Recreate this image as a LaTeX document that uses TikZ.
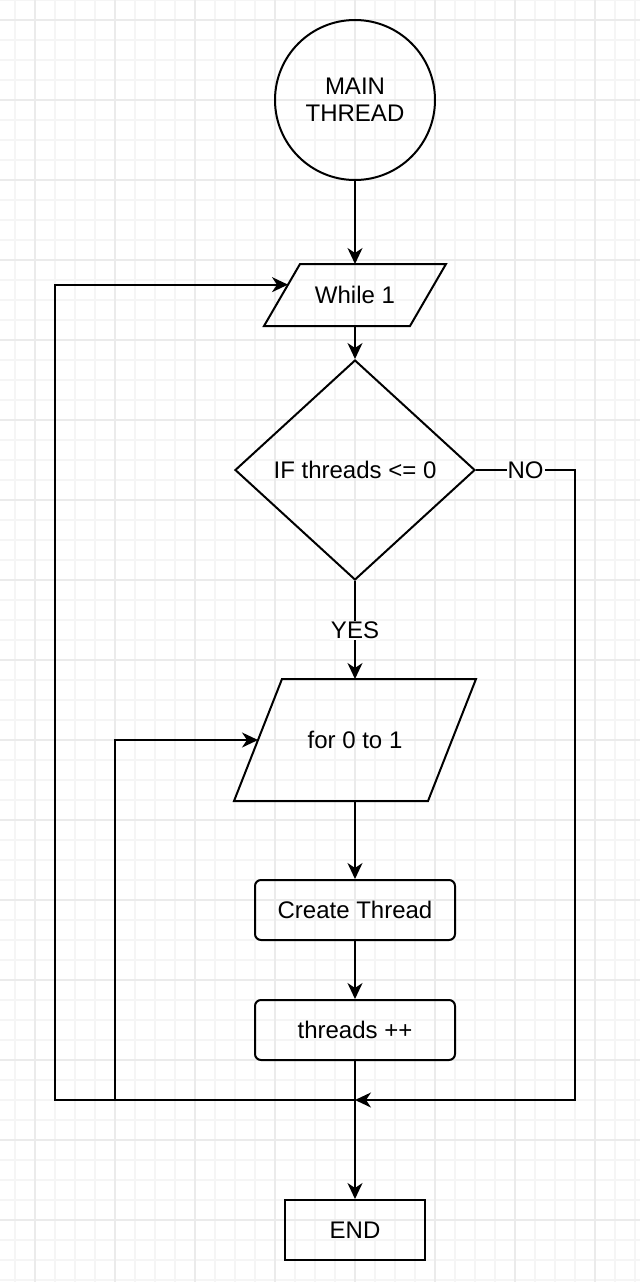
\documentclass[tikz,border=0pt]{standalone}
\usepackage{fontspec}
\setmainfont{Liberation Sans}
\usetikzlibrary{arrows.meta,calc,shapes.geometric}

% slanted frame round a named node: #1 node, #2 half of the slant
\newcommand{\slantframe}[2]{%
  \draw ($(#1.north west)+(#2,0)$) -- ($(#1.north east)+(#2,0)$)
    -- ($(#1.south east)+(-#2,0)$) -- ($(#1.south west)+(-#2,0)$) -- cycle;}

\begin{document}
\begin{tikzpicture}[x=1pt, y=-1pt, draw=black, line width=2pt,
  font=\fontsize{24}{27}\selectfont,
  arr/.style={-{Stealth[length=16pt,width=15pt,inset=5pt]}},
  startnode/.style={draw, circle, minimum size=160pt, inner sep=0pt, align=center},
  iobox/.style={inner sep=0pt},
  testbox/.style={draw, diamond, minimum width=240pt, minimum height=220pt, inner sep=0pt},
  procbox/.style={draw, rounded corners=6pt, minimum width=200pt, minimum height=60pt, inner sep=0pt},
  endnode/.style={draw, minimum width=140pt, minimum height=60pt, inner sep=0pt},
  lbl/.style={fill=white, inner sep=1pt}]

\useasboundingbox (0,0) rectangle (640,1282);
% background grid
\foreach \gx in {15,35,...,635} \draw[line width=1.5pt, black!4] (\gx,0) -- (\gx,1282);
\foreach \gy in {0,20,...,1280} \draw[line width=1.5pt, black!4] (0,\gy) -- (640,\gy);
\foreach \gx in {35,115,...,635} \draw[line width=1.5pt, black!8] (\gx,0) -- (\gx,1282);
\foreach \gy in {20,100,...,1280} \draw[line width=1.5pt, black!8] (0,\gy) -- (640,\gy);

\node[startnode] (main) at (355,100) {MAIN\\THREAD};

\node[iobox, minimum width=144pt, minimum height=60pt] (while1) at (355,295) {While 1};
\slantframe{while1}{18}

\node[testbox] (cond) at (355,470) {IF threads <= 0};

\node[iobox, minimum width=192pt, minimum height=120pt] (forloop) at (355,740) {for 0 to 1};
\slantframe{forloop}{24}

\node[procbox] (create) at (355,910) {Create Thread};

\node[procbox] (inc) at (355,1030) {threads ++};

\node[endnode] (endbox) at (355,1230) {END};

\coordinate (join) at (355,1100);
\coordinate (loopA) at (55,1100);
\coordinate (loopB) at (115,1100);
\coordinate (noturn) at (575,470);
\coordinate (whiletip) at ($($(while1.north west)+(18,0)$)!0.333!($(while1.south west)+(-18,0)$)$);

\draw[arr] (main.south) -- (while1.north);
\draw[arr] (while1.south) -- (cond.north);
\draw[arr] (cond.south) -- node[lbl] {YES} (forloop.north);
\draw[arr] (cond.east) -- node[lbl] {NO} (noturn) -- (noturn |- join) -- (join);
\draw[arr] (forloop.south) -- (create.north);
\draw[arr] (create.south) -- (inc.north);
\draw[arr] (inc.south) -- (endbox.north);
\draw[arr] (join) -- (loopA) |- (whiletip);
\draw[arr] (join) -- (loopB) |- (forloop.west);
\end{tikzpicture}
\end{document}
